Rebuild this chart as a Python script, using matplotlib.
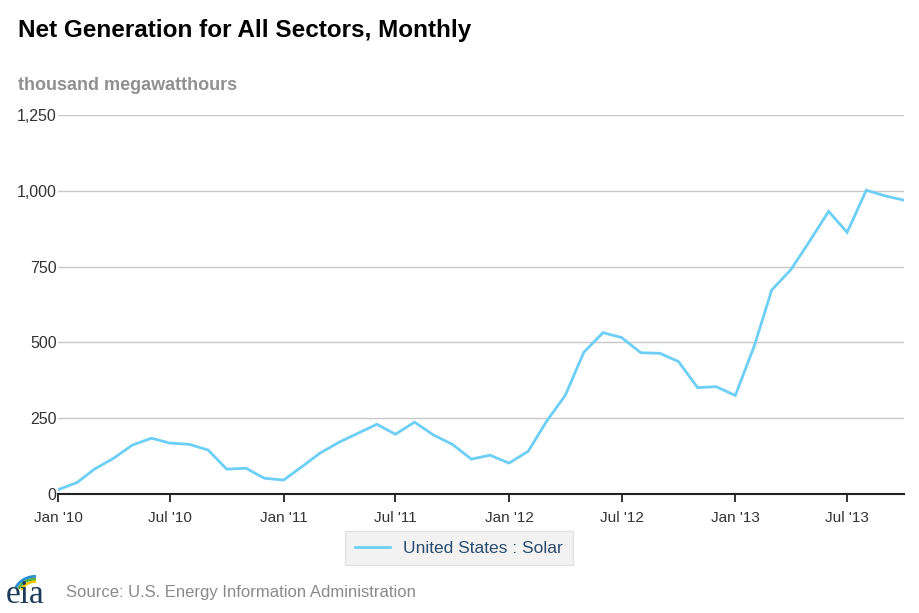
import pandas as pd
import matplotlib.pyplot as plt
from matplotlib.patches import Arc

plt.rcParams['font.family'] = ['Liberation Sans', 'DejaVu Sans']

# monthly net generation, solar, thousand MWh (Jan 2010 - Oct 2013)
months = pd.date_range('2010-01-01', '2013-10-01', freq='MS')
solar = [14, 38, 82, 118, 161, 184, 168, 164, 145, 82, 85, 52,
         46, 92, 135, 171, 200, 230, 197, 237, 194, 164, 115, 128,
         102, 141, 238, 326, 468, 532, 516, 466, 464, 437, 351, 354,
         325, 490, 673, 740, 833, 932, 863, 1002, 983, 969]

tick_dates = pd.date_range('2010-01-01', '2013-07-01', freq='6MS')
tick_labels = ["Jan '10", "Jul '10", "Jan '11", "Jul '11",
               "Jan '12", "Jul '12", "Jan '13", "Jul '13"]
y_ticks = [0, 250, 500, 750, 1000, 1250]
y_labels = ['0', '250', '500', '750', '1,000', '1,250']

fig = plt.figure(figsize=(9.2, 6.13), dpi=100)
ax = fig.add_axes([58 / 920, 1 - 494 / 613, 846 / 920, 379 / 613])

ax.plot(months, solar, color='#6dcff6', lw=2.0, label='United States : Solar',
        solid_joinstyle='miter')

ax.set_xlim(months[0], months[-1])
ax.set_ylim(0, 1250)
ax.set_yticks(y_ticks)
ax.set_yticklabels(y_labels)
ax.set_xticks(tick_dates)
ax.set_xticklabels(tick_labels)

ax.grid(axis='y', color='#c8c8c8', lw=1)
ax.set_axisbelow(True)
for s in ['top', 'right', 'left']:
    ax.spines[s].set_visible(False)
ax.spines['bottom'].set_color('#222222')
ax.spines['bottom'].set_linewidth(1.5)
ax.tick_params(axis='y', length=0, pad=1, labelsize=11.5, labelcolor='#333333')
ax.tick_params(axis='x', length=6, width=1.3, color='#222222', pad=6,
               labelsize=11, labelcolor='#333333')

fig.text(18 / 920, 1 - 31 / 613, 'Net Generation for All Sectors, Monthly',
         fontsize=17.5, fontweight='bold', color='black', va='center')
fig.text(18 / 920, 1 - 86 / 613, 'thousand megawatthours',
         fontsize=13, fontweight='bold', color='#909090', va='center')

leg = ax.legend(loc='center', bbox_to_anchor=(459 / 920, 1 - 548 / 613),
                bbox_transform=fig.transFigure, fontsize=12.5, frameon=True,
                fancybox=False, handlelength=2.0, borderpad=0.55)
leg.get_frame().set_facecolor('#efefef')
leg.get_frame().set_edgecolor('#dddddd')
for t in leg.get_texts():
    t.set_color('#2b4c6f')

# eia logo + source line
fig.text(66 / 920, 1 - 593 / 613, 'Source: U.S. Energy Information Administration',
         fontsize=12, color='#8a8a8a', va='center')
fig.text(6 / 920, 1 - 595 / 613, 'eia', fontsize=24, family='Liberation Serif',
         color='#1d3b5a', va='center')
lax = fig.add_axes([6 / 920, 1 - 595 / 613, 44 / 920, 24 / 613])
lax.set_xlim(0, 44)
lax.set_ylim(0, 24)
lax.axis('off')
for r, c in [(16, '#f2c500'), (19, '#5bb040'), (22, '#2c8fcf')]:
    lax.add_patch(Arc((30, 0), 2 * r, 2 * r * 0.85, theta1=90, theta2=160,
                      color=c, lw=2))

fig.savefig('out.png', dpi=100)
